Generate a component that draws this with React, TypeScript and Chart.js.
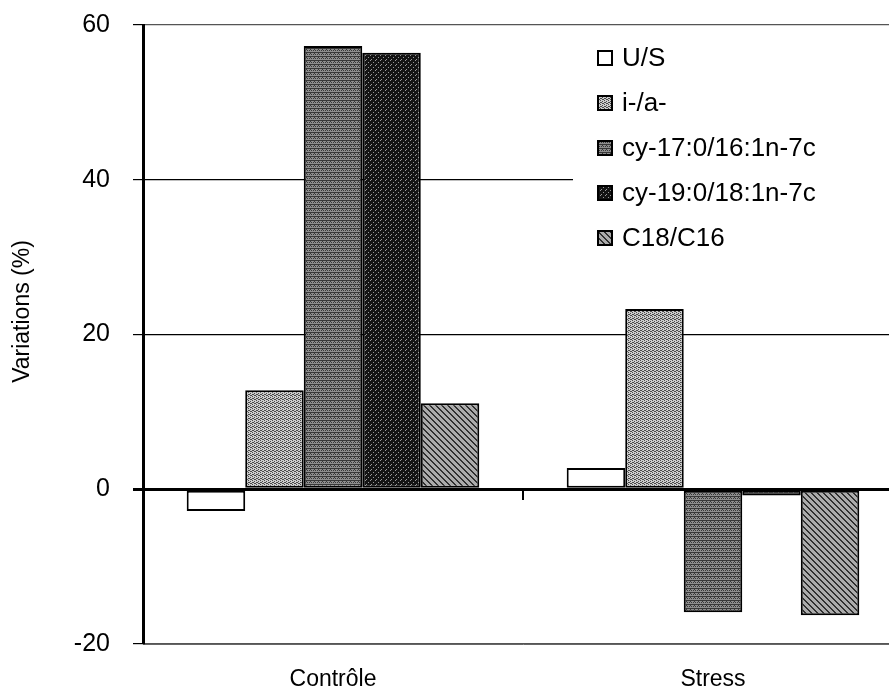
import React, { useEffect, useRef } from "react";
import { Chart, registerables } from "chart.js";

Chart.register(...registerables);

const categories = ["Contrôle", "Stress"];
const seriesNames = ["U/S", "i-/a-", "cy-17:0/16:1n-7c", "cy-19:0/18:1n-7c", "C18/C16"];
const usS = [-2.8, 2.75];
const isoAnteiso = [12.8, 23.3];
const cy17 = [57.3, -15.9];
const cy19 = [56.4, -0.8];
const c18c16 = [11.1, -16.3];
const yTicks = [-20, 0, 20, 40, 60];
const yTitle = "Variations (%)";

const FONT = "'Liberation Sans', Arial, sans-serif";

function makePattern(ctx: CanvasRenderingContext2D, size: number, bg: string, fg: string, pts: number[][]) {
  const c = document.createElement("canvas");
  c.width = size;
  c.height = size;
  const g = c.getContext("2d")!;
  g.fillStyle = bg;
  g.fillRect(0, 0, size, size);
  g.fillStyle = fg;
  pts.forEach(([x, y]) => g.fillRect(x, y, 1, 1));
  return ctx.createPattern(c, "repeat") as CanvasPattern;
}

export default function App() {
  const ref = useRef<HTMLCanvasElement>(null);
  useEffect(() => {
    document.body.style.margin = "0";
    const canvas = ref.current!;
    const ctx = canvas.getContext("2d")!;
    const fills: (string | CanvasPattern)[] = [
      "#ffffff",
      makePattern(ctx, 4, "#cccccc", "#4a4a4a", [[0, 0], [2, 1], [1, 2], [3, 3], [2, 3], [0, 2]]),
      makePattern(ctx, 4, "#8e8e8e", "#383838", [[0, 0], [1, 0], [2, 0], [3, 0], [1, 2], [3, 2], [2, 1]]),
      makePattern(ctx, 5, "#141414", "#9a9a9a", [[0, 0], [3, 2], [1, 4]]),
      makePattern(ctx, 6, "#ababab", "#303030", [[0, 0], [1, 1], [2, 2], [3, 3], [4, 4], [5, 5], [1, 0], [2, 1], [3, 2], [4, 3], [5, 4], [0, 5]]),
    ];
    const values = [usS, isoAnteiso, cy17, cy19, c18c16];

    const overlay = {
      id: "overlay",
      afterDraw(chart: any) {
        const c = chart.ctx as CanvasRenderingContext2D;
        const area = chart.chartArea;
        // legend
        c.save();
        c.fillStyle = "#ffffff";
        c.fillRect(573, area.top + 8, area.right - 573, 225);
        c.font = `26px ${FONT}`;
        c.textBaseline = "middle";
        c.textAlign = "left";
        seriesNames.forEach((name, i) => {
          const cy = 58 + i * 45;
          c.fillStyle = fills[i] as any;
          c.fillRect(598, cy - 7, 14, 14);
          c.strokeStyle = "#000";
          c.lineWidth = 2;
          c.strokeRect(598, cy - 7, 14, 14);
          c.fillStyle = "#000";
          c.fillText(name, 622, cy + 1);
        });
        // y title
        c.font = `23px ${FONT}`;
        c.translate(23, (area.top + area.bottom) / 2 - 23);
        c.rotate(-Math.PI / 2);
        c.textAlign = "center";
        c.textBaseline = "middle";
        c.fillStyle = "#000";
        c.fillText(yTitle, 0, 0);
        c.restore();
      },
    };

    const chart = new Chart(canvas, {
      type: "bar",
      data: {
        labels: categories,
        datasets: seriesNames.map((name, i) => ({
          label: name,
          data: values[i],
          backgroundColor: fills[i] as any,
          borderColor: "#000",
          borderWidth: 2,
          borderSkipped: false,
          categoryPercentage: 0.77,
          barPercentage: 1,
        })),
      },
      options: {
        animation: false,
        responsive: false,
        layout: { padding: { top: 25, right: 2, left: 0, bottom: 0 } },
        plugins: { legend: { display: false }, tooltip: { enabled: false } },
        scales: {
          x: {
            type: "category",
            position: "bottom",
            grid: { display: false, drawTicks: false },
            border: { display: true, color: "#666", width: 1 },
            ticks: { color: "#000", font: { family: FONT, size: 23 }, padding: 22 },
            afterFit: (s: any) => {
              s.height = 51;
              s.paddingLeft = 0;
              s.paddingRight = 0;
            },
          },
          x2: {
            type: "category",
            axis: "x",
            labels: categories,
            position: { y: 0 } as any,
            offset: true,
            grid: { display: true, drawOnChartArea: false, drawTicks: true, tickLength: 9, color: "#000", lineWidth: 2, offset: true },
            border: { display: true, color: "#000", width: 3 },
            ticks: { display: false },
            afterFit: (s: any) => {
              s.height = 0;
              s.paddingLeft = 0;
              s.paddingRight = 0;
              s.paddingTop = 0;
              s.paddingBottom = 0;
            },
          },
          y: {
            min: -20,
            max: 60,
            afterBuildTicks: (s: any) => {
              s.ticks = yTicks.map((v) => ({ value: v }));
            },
            grid: {
              color: (c: any) => (c.tick && (c.tick.value === 60 || c.tick.value === -20) ? "#555" : "#000"),
              lineWidth: (c: any) => (c.tick && c.tick.value === 0 ? 3 : 1.2),
              tickLength: 10,
              tickColor: "#000",
            },
            border: { display: true, color: "#000", width: 3 },
            ticks: { color: "#000", font: { family: FONT, size: 25 }, padding: 23 },
            afterFit: (s: any) => {
              s.width = 143;
              s.paddingTop = 0;
              s.paddingBottom = 0;
            },
          },
        },
      },
      plugins: [overlay],
    } as any);
    return () => chart.destroy();
  }, []);
  return (
    <div style={{ width: 889, height: 695, overflow: "hidden", position: "relative" }}>
      <canvas ref={ref} width={905} height={695} style={{ display: "block", width: 905, height: 695 }} />
    </div>
  );
}
